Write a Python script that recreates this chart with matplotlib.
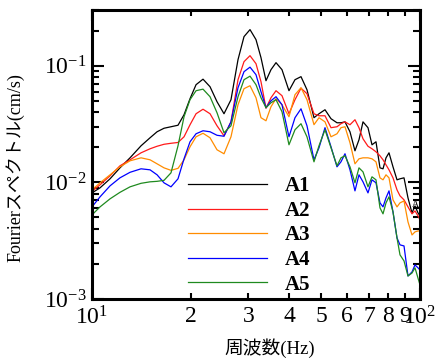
import matplotlib
matplotlib.use("Agg")
import matplotlib.pyplot as plt
from matplotlib.ticker import FixedLocator, FixedFormatter, NullFormatter, LogLocator

plt.rcParams['font.family'] = ['Liberation Serif', 'Noto Sans CJK JP']
plt.rcParams['mathtext.fontset'] = 'custom'
plt.rcParams['mathtext.rm'] = 'Liberation Serif'
plt.rcParams['mathtext.it'] = 'Liberation Serif:italic'
plt.rcParams['mathtext.bf'] = 'Liberation Serif:bold'

freq = [10.00, 10.58, 11.35, 12.17, 13.06, 14.11, 15.03, 15.79, 16.58, 17.41,
        18.29, 19.08, 19.90, 20.76, 21.80, 22.90, 24.05, 25.26, 26.53, 27.87,
        29.07, 30.32, 31.62, 32.75, 33.92, 35.13, 36.39, 37.95, 39.86, 41.58,
        43.37, 45.23, 47.51, 49.21, 51.33, 53.54, 55.84, 57.42, 59.06, 61.17,
        63.35, 65.16, 67.02, 69.41, 71.39, 73.42, 75.51, 77.13, 78.77, 80.44,
        82.73, 85.09, 86.90, 89.38, 91.91, 94.54, 96.55, 98.61, 100.0]

A1 = [0.00812, 0.00897, 0.01072, 0.01331, 0.01622, 0.02057, 0.02409, 0.02713, 0.02908, 0.02995,
      0.03086, 0.03797, 0.05209, 0.0687, 0.0766, 0.0660, 0.0491, 0.03872, 0.05107, 0.1126,
      0.1774, 0.2037, 0.1672, 0.1171, 0.0743, 0.0924, 0.1061, 0.0924, 0.0610, 0.0758,
      0.0805, 0.0622, 0.0358, 0.0387, 0.0419, 0.0351, 0.0324, 0.0324, 0.0330, 0.0271,
      0.01863, 0.02316, 0.0330, 0.0294, 0.02098, 0.02226, 0.01331, 0.01306, 0.01622, 0.01791,
      0.01358, 0.01051, 0.01072, 0.01093, 0.00736, 0.00547, 0.00628, 0.00547, 0.00516]

A2 = [0.00837, 0.00952, 0.01137, 0.01385, 0.0156, 0.01791, 0.01939, 0.02038, 0.02119, 0.02161,
      0.02196, 0.02457, 0.03116, 0.03872, 0.04233, 0.03872, 0.03054, 0.02506, 0.0330, 0.0758,
      0.1082, 0.1218, 0.1040, 0.0729, 0.04317, 0.0531, 0.0610, 0.0553, 0.0387, 0.0511,
      0.0641, 0.0575, 0.0387, 0.0372, 0.0372, 0.0294, 0.02995, 0.0318, 0.0330, 0.03116,
      0.0344, 0.0294, 0.02362, 0.02038, 0.01939, 0.01827, 0.01688, 0.0156, 0.01413, 0.0128,
      0.01093, 0.00862, 0.00766, 0.00708, 0.00616, 0.00537, 0.00569, 0.00516, 0.00477]

A3 = [0.00862, 0.0099, 0.0116, 0.01358, 0.01529, 0.01622, 0.0156, 0.01441, 0.01331, 0.01267,
      0.01318, 0.0156, 0.02017, 0.02457, 0.02634, 0.02409, 0.01901, 0.01757, 0.02457, 0.04627,
      0.0635, 0.0673, 0.0531, 0.0358, 0.0337, 0.04447, 0.0521, 0.04627, 0.0365, 0.0564,
      0.0647, 0.0511, 0.0312, 0.0358, 0.0330, 0.02457, 0.02608, 0.0294, 0.02995, 0.02182,
      0.01441, 0.01591, 0.01622, 0.01622, 0.01591, 0.01499, 0.01093, 0.01051, 0.0116, 0.01093,
      0.00708, 0.00616, 0.00667, 0.00693, 0.00458, 0.00354, 0.00376, 0.00383, 0.00383]

A4 = [0.00616, 0.00751, 0.00933, 0.01093, 0.01219, 0.01306, 0.0128, 0.0116, 0.0099, 0.00915,
      0.01072, 0.01591, 0.02226, 0.02608, 0.02767, 0.02713, 0.02531, 0.02483, 0.0330, 0.0647,
      0.0888, 0.0971, 0.0837, 0.0598, 0.0436, 0.0500, 0.0542, 0.0463, 0.02457, 0.0358,
      0.0427, 0.03054, 0.0156, 0.01977, 0.0294, 0.02017, 0.01358, 0.01499, 0.01757, 0.0128,
      0.00845, 0.0116, 0.0101, 0.00812, 0.01051, 0.0099, 0.00667, 0.00616, 0.00736, 0.00845,
      0.00558, 0.00334, 0.00291, 0.00285, 0.001575, 0.001705, 0.00196, 0.00185, 0.00177]

A5 = [0.00526, 0.00616, 0.00722, 0.00821, 0.00915, 0.00981, 0.0101, 0.0102, 0.0104, 0.01206,
      0.02057, 0.0365, 0.0511, 0.0610, 0.0629, 0.0542, 0.0395, 0.0266, 0.03054, 0.0542,
      0.0758, 0.0813, 0.0687, 0.0531, 0.0436, 0.0481, 0.0511, 0.0403, 0.02098, 0.02823,
      0.0318, 0.02457, 0.01499, 0.02057, 0.02823, 0.01977, 0.01385, 0.01622, 0.01688, 0.01358,
      0.0099, 0.01331, 0.0123, 0.00915, 0.01115, 0.01051, 0.00604, 0.00537, 0.00667, 0.00751,
      0.00558, 0.00334, 0.00239, 0.00212, 0.001575, 0.00167, 0.00185, 0.00151, 0.00132]

series_names = ["A1", "A2", "A3", "A4", "A5"]
series_vals = [A1, A2, A3, A4, A5]
colors = ["#000000", "#ff1a1a", "#ff8c00", "#0000ff", "#1f8a1f"]

x_major = [10, 100]
x_major_labels = ["$10^1$", "$10^2$"]
x_minor = [20, 30, 40, 50, 60, 70, 80, 90]
x_minor_labels = ["2", "3", "4", "5", "6", "7", "8", "9"]
y_major = [1e-3, 1e-2, 1e-1]
y_major_labels = ["$10^{-3}$", "$10^{-2}$", "$10^{-1}$"]

fig = plt.figure(figsize=(4.38, 3.58), dpi=100)
ax = fig.add_axes([92/438, 59/358, 328/438, 289/358])

for name, vals, c in zip(series_names, series_vals, colors):
    ax.plot(freq, vals, color=c, lw=0.9, label=name)

ax.set_xscale('log')
ax.set_yscale('log')
ax.set_xlim(10, 100)
ax.set_ylim(1e-3, 0.3)

ax.xaxis.set_major_locator(FixedLocator(x_major))
ax.xaxis.set_major_formatter(FixedFormatter(x_major_labels))
ax.xaxis.set_minor_locator(FixedLocator(x_minor))
ax.xaxis.set_minor_formatter(FixedFormatter(x_minor_labels))
ax.yaxis.set_major_locator(FixedLocator(y_major))
ax.yaxis.set_major_formatter(FixedFormatter(y_major_labels))
ax.yaxis.set_minor_locator(LogLocator(base=10, subs=range(2, 10)))
ax.yaxis.set_minor_formatter(NullFormatter())

ax.tick_params(which='both', direction='in', top=True, right=True, width=1.5, labelsize=17)
ax.tick_params(axis='x', which='both', pad=5)
ax.tick_params(axis='x', which='major', length=8)
ax.tick_params(axis='x', which='minor', length=4.5)
ax.tick_params(axis='y', which='major', length=8.5, pad=4)
ax.tick_params(axis='y', which='minor', length=5)
for s in ax.spines.values():
    s.set_linewidth(2.2)

ax.set_ylabel("Fourierスペクトル(cm/s)", fontsize=13)
ax.yaxis.set_label_coords(-0.205, 0.455)
ax.set_xlabel("周波数(Hz)", fontsize=13.5)
ax.xaxis.set_label_coords(0.543, -0.135)

ax.text(96.5, 0.0064, "A", fontsize=7, ha='center', va='center')

leg = ax.legend(loc='lower left', bbox_to_anchor=(0.255, -0.028), frameon=False,
                prop={'family': 'Liberation Serif', 'weight': 'bold', 'size': 15},
                handlelength=3.8, handletextpad=0.85, labelspacing=0.22, borderaxespad=0.2)

fig.savefig("out.png", dpi=100)
